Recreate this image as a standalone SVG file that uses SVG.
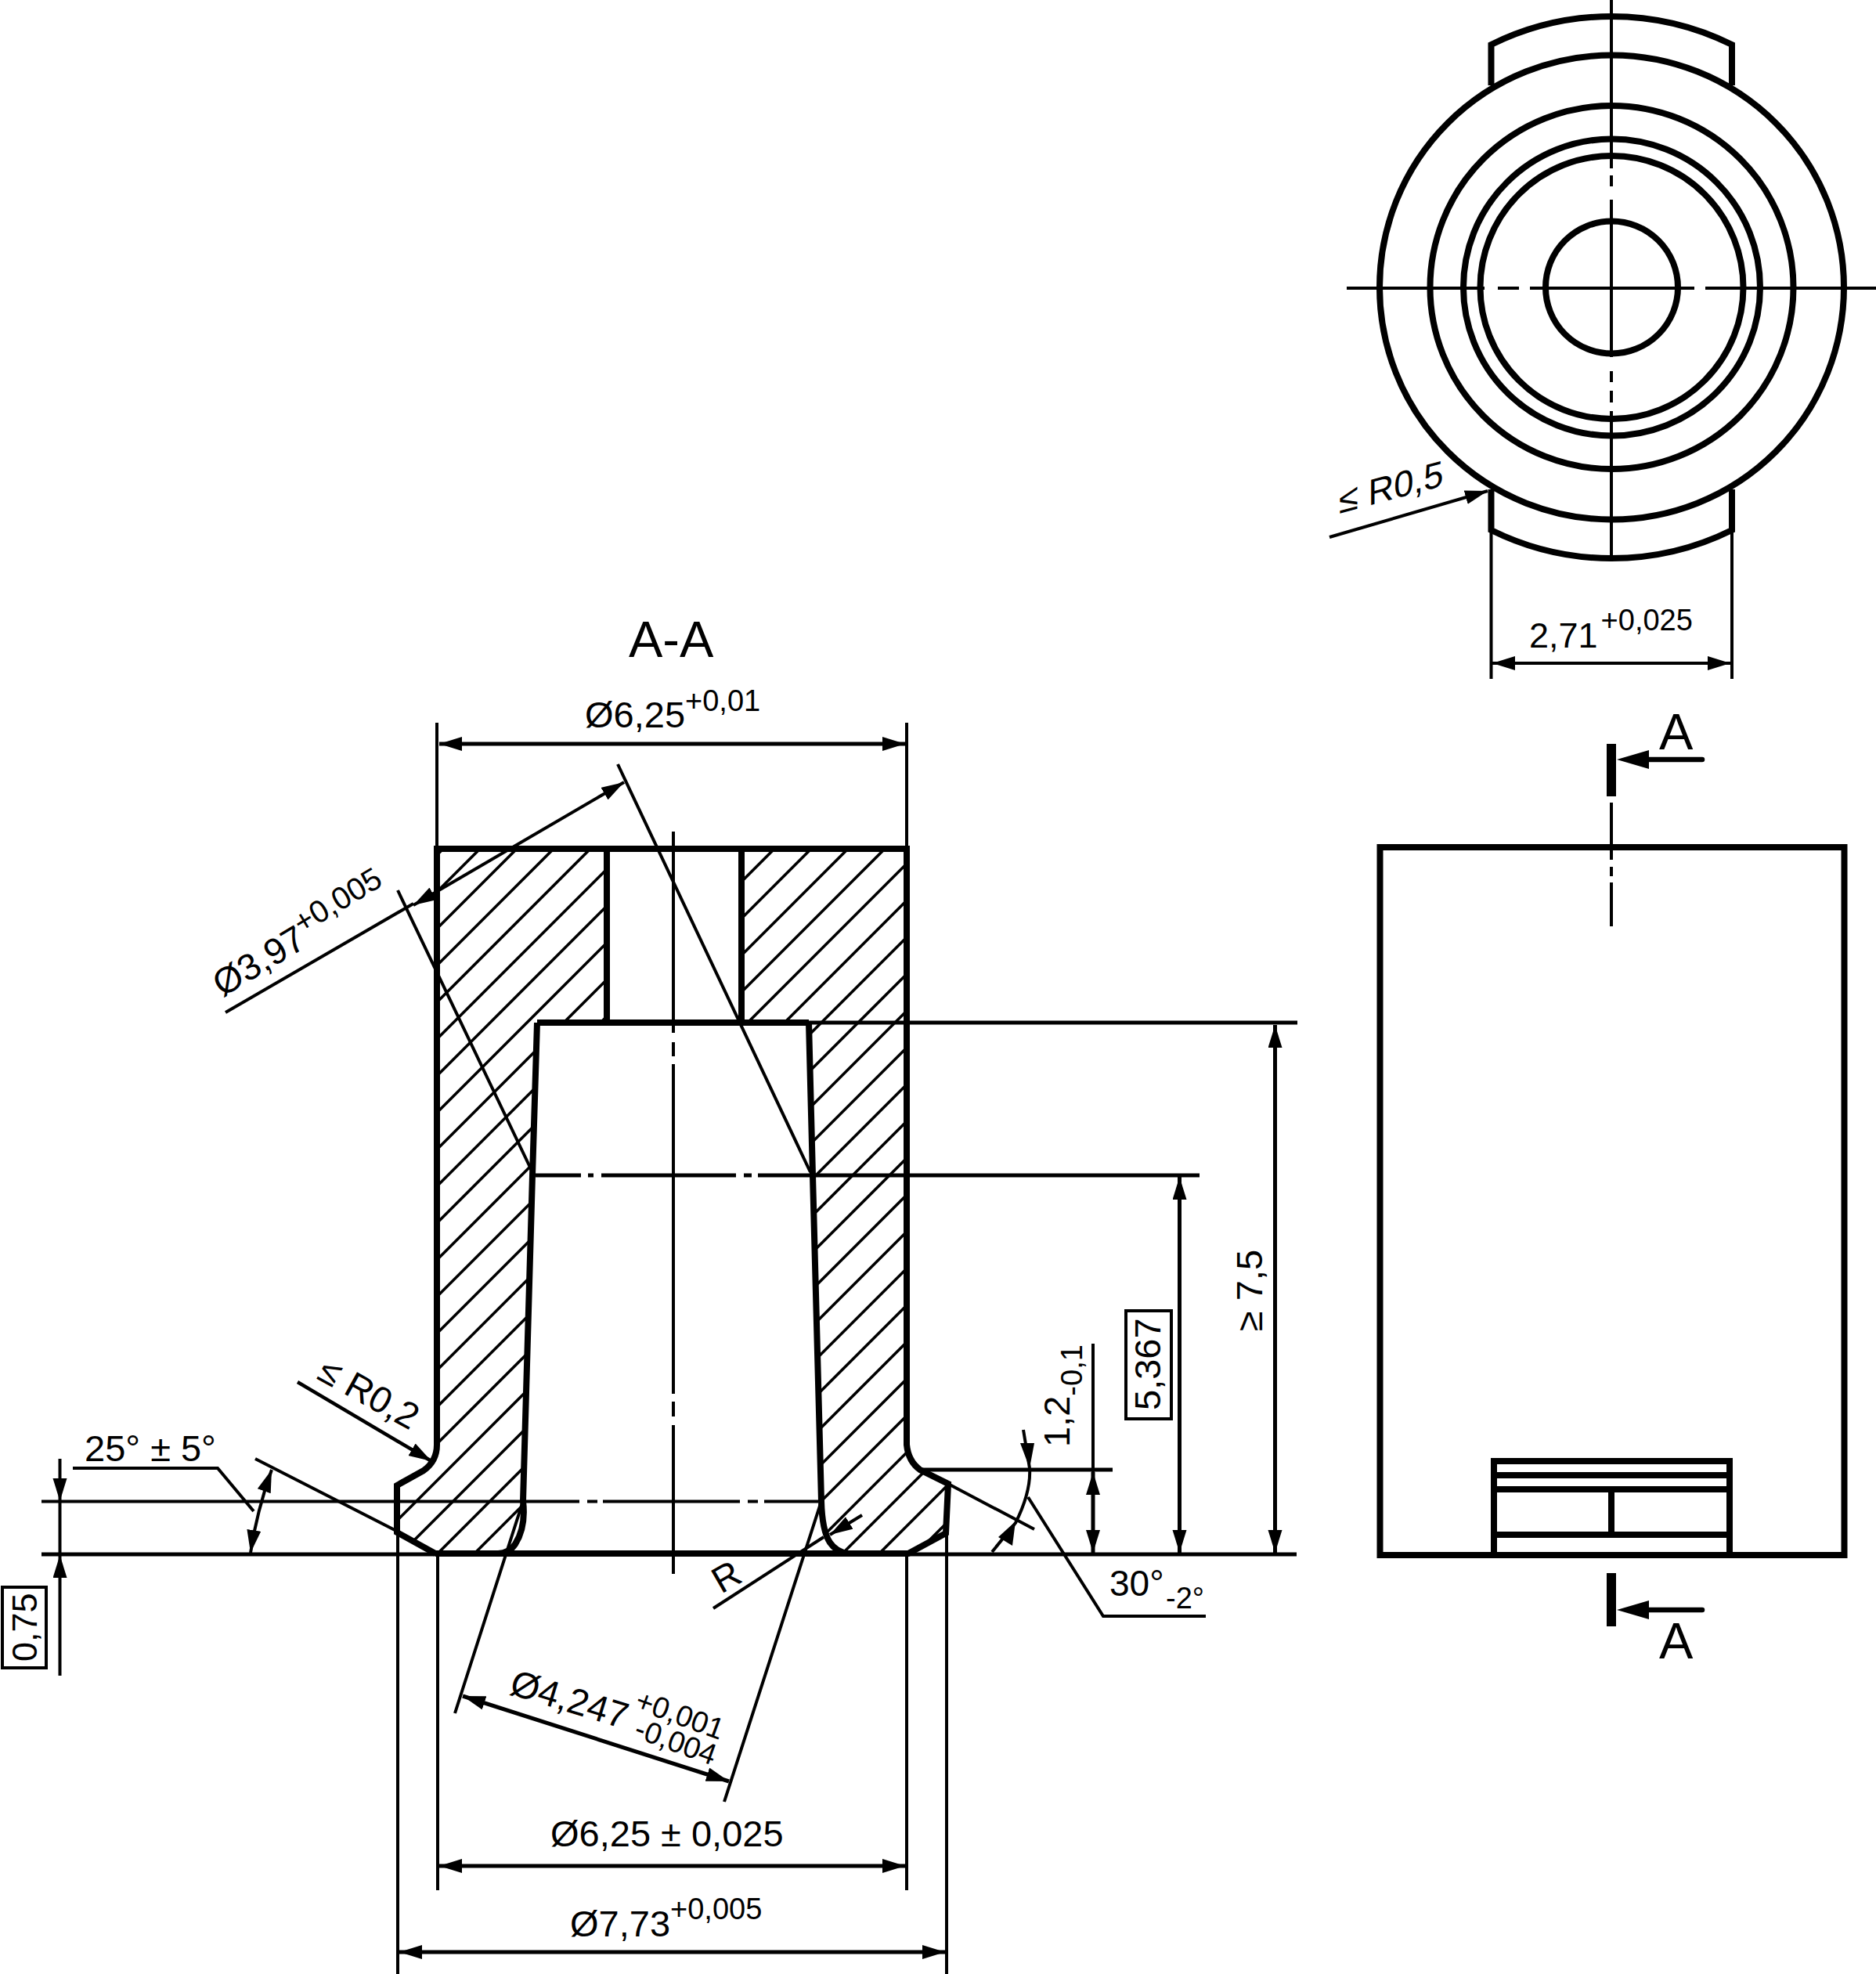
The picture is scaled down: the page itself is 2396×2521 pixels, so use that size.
<svg xmlns="http://www.w3.org/2000/svg" width="2396" height="2521" viewBox="0 0 2396 2521">
<style>
text{font-family:"Liberation Sans",Arial,sans-serif;fill:#000;font-size:47px}
.sup{font-size:38px}
.big{font-size:65px}
.thick,.thin,.med,.hatch,.dim{fill:none;stroke:#000;stroke-linejoin:miter}
.thick{stroke-width:8}
.med{stroke-width:6.5;stroke-linecap:round}
.thin{stroke-width:4}
.dim{stroke-width:5}
.hatch{stroke-width:3.6}
.ah{fill:#000;stroke:none}
</style>
<defs>
<marker id="a" markerUnits="userSpaceOnUse" markerWidth="32" markerHeight="20" refX="29" refY="9" orient="auto-start-reverse"><path class="ah" d="M0,0L29,9L0,18z"/></marker>
<clipPath id="sec"><path d="M558,1084H775V1306H686L680,1501L668,1917Q672,1950 658,1972Q650,1984 636,1984H556L507,1957V1897L541,1878Q558,1866 558,1845ZM947,1084H1158V1845Q1160,1866 1175,1877L1211,1895L1208,1958L1160,1984H1083Q1068,1982 1060,1970Q1050,1955 1049,1917L1038,1501L1033,1306H947Z"/></clipPath>
</defs>
<rect width="2396" height="2521" fill="#fff"/>
<g id="section-view">
<path class="hatch" clip-path="url(#sec)" d="M650,1000l-1100,1100M697,1000l-1100,1100M744,1000l-1100,1100M791,1000l-1100,1100M838,1000l-1100,1100M885,1000l-1100,1100M932,1000l-1100,1100M979,1000l-1100,1100M1026,1000l-1100,1100M1073,1000l-1100,1100M1120,1000l-1100,1100M1167,1000l-1100,1100M1214,1000l-1100,1100M1261,1000l-1100,1100M1308,1000l-1100,1100M1355,1000l-1100,1100M1402,1000l-1100,1100M1449,1000l-1100,1100M1496,1000l-1100,1100M1543,1000l-1100,1100M1590,1000l-1100,1100M1637,1000l-1100,1100M1684,1000l-1100,1100M1731,1000l-1100,1100M1778,1000l-1100,1100M1825,1000l-1100,1100M1872,1000l-1100,1100M1919,1000l-1100,1100M1966,1000l-1100,1100M2013,1000l-1100,1100M2060,1000l-1100,1100M2107,1000l-1100,1100M2154,1000l-1100,1100"/>
<path class="thick" d="M556,1984H1160L1208,1958L1211,1895L1175,1877Q1160,1866 1158,1845V1084H558V1845Q558,1866 541,1878L507,1897V1957L556,1984"/>
<path class="thick" d="M775,1084V1306M947,1084V1306M686,1306H1033M686,1306L680,1501L668,1917Q672,1950 658,1972Q650,1984 636,1984M1033,1306L1038,1501L1049,1917Q1050,1955 1060,1970Q1068,1982 1083,1984"/>
</g>
<g id="top-view">
<g class="thick">
<circle cx="2058.5" cy="367" r="296.5"/>
<circle cx="2058.5" cy="367" r="232"/>
<circle cx="2058.5" cy="367" r="189.5"/>
<circle cx="2058.5" cy="367" r="168"/>
<circle cx="2058.5" cy="367" r="84.5"/>
</g>
<path class="thick" d="M1904.5,109V57A346,346 0 0 1 2212,57V109M1904.5,625V677A346,346 0 0 0 2212,677V625"/>
<path class="thin" d="M1720,368H1896M1913,368H1940M1954,368H2144M2146,368H2164M2178,368H2396M2058,0V215M2058,224V238M2058,255V456M2058,474V488M2058,499V514M2058,525V716"/>
</g>
<g id="side-view">
<rect class="thick" x="1762.5" y="1082" width="593" height="904"/>
<path class="thick" d="M1908,1986V1866H2209V1986M1908,1884H2209M1908,1902H2209M1908,1960H2209M2058,1902V1960"/>
<path class="thin" d="M2058,1025V1098M2058,1107V1119M2058,1127V1183"/>
<path stroke="#000" stroke-width="12" fill="none" d="M2058,950V1017M2058,2009V2077"/>
<path class="med" d="M2100,970H2174M2100,2056H2174"/>
<path class="ah" d="M2065,970L2106,958V982zM2065,2056L2106,2044V2068z"/>
<text class="big" x="2119" y="957">A</text>
<text class="big" x="2119" y="2118">A</text>
</g>
<g id="connectors">
<path class="thin" d="M558,923V1084M1158,923V1084M508,1957V2521M1209,1958V2521M559,1986V2414M1158,1986V2414M1904.5,680V867M2212,680V867"/>
<path class="thin" d="M53,1917.5H740M750,1917.5H763M770,1917.5H945M955,1917.5H968M976,1917.5H1045"/>
<path class="thin" d="M860,1062V1319M860,1331V1349M860,1359V1780M860,1790V1809M860,1820V2010"/>
<path class="dim" d="M684,1501H742M751,1501H758M768,1501H940M950,1501H960M968,1501H1532"/>
<path class="dim" d="M1033,1306H1657"/>
<path class="dim" d="M53,1985H556M1160,1985H1656M1175,1877H1421"/>
<path class="thin" d="M789,976L1035,1497M508,1137L680,1497"/>
<path class="thin" d="M668,1917L581,2188M1049,1917L925,2301"/>
<path class="thin" d="M288,1293L528,1154"/>
<path class="thin" marker-start="url(#a)" marker-end="url(#a)" d="M528,1156L797,999"/>
<path class="dim" marker-start="url(#a)" marker-end="url(#a)" d="M561,950H1156"/>
<path class="dim" marker-start="url(#a)" marker-end="url(#a)" d="M561,2383H1156"/>
<path class="dim" marker-start="url(#a)" marker-end="url(#a)" d="M510,2493H1207"/>
<path class="dim" marker-start="url(#a)" marker-end="url(#a)" d="M591,2166L931,2275"/>
<path class="thin" marker-start="url(#a)" marker-end="url(#a)" d="M1906,847H2210"/>
<path class="thin" marker-end="url(#a)" d="M1698,686L1900,627"/>
<path class="dim" style="stroke-width:4.5" marker-end="url(#a)" d="M380,1765L551,1866"/>
<path class="thin" marker-end="url(#a)" d="M76.5,1863V1917"/>
<path class="thin" d="M76.5,1917V1984"/>
<path class="thin" marker-end="url(#a)" d="M76.5,2140V1986"/>
<path class="thin" d="M93,1875H278L324,1930"/>
<path class="thin" marker-start="url(#a)" marker-end="url(#a)" d="M347,1877Q328,1930 320,1983"/>
<path class="thin" d="M326,1863L510,1957M1211,1895L1321,1953"/>
<path class="thin" d="M1307,1826L1315,1875"/>
<path class="ah" d="M1315,1875L1303,1843H1321z"/>
<path class="thin" d="M1315,1875Q1317,1905 1297,1945L1267,1982"/>
<path class="ah" d="M1297,1943L1293,1974L1275,1963z"/>
<path class="thin" d="M1313,1912L1409,2064H1540"/>
<path class="dim" marker-start="url(#a)" marker-end="url(#a)" d="M1396,1880V1983"/>
<path class="thin" d="M1396,1716V1880"/>
<path class="dim" marker-start="url(#a)" marker-end="url(#a)" d="M1506.5,1503V1983"/>
<path class="dim" marker-start="url(#a)" marker-end="url(#a)" d="M1628.5,1309V1983"/>
<path class="thin" marker-end="url(#a)" d="M1101,1935L1060,1960"/>
<path class="thin" d="M1052,1963L911,2054"/>
</g>
<g id="labels">
<text class="big" x="803" y="839">A-A</text>
<text x="747" y="929">Ø6,25<tspan class="sup" dy="-21">+0,01</tspan></text>
<text transform="translate(284,1274) rotate(-31)">Ø3,97<tspan class="sup" style="font-size:40px" dy="-17">+0,005</tspan></text>
<text x="108" y="1866">25° ± 5°</text>
<text transform="translate(403,1760) rotate(29)">≤ R0,2</text>
<text style="font-size:45px" transform="translate(47,2122) rotate(-90)">0,75</text>
<rect class="thin" x="3" y="2027" width="56" height="103"/>
<text x="703" y="2358">Ø6,25 ± 0,025</text>
<text x="728" y="2473">Ø7,73<tspan class="sup" dy="-22">+0,005</tspan></text>
<text transform="translate(649,2163) rotate(17)">Ø4,247</text>
<text class="sup" transform="translate(809,2182) rotate(20)">+0,001</text>
<text class="sup" transform="translate(808,2218) rotate(20)">-0,004</text>
<text transform="translate(921,2036) rotate(-30)">R</text>
<text style="font-size:46px" x="1417" y="2038">30°</text>
<text class="sup" x="1489" y="2054">-2°</text>
<text transform="translate(1366,1848) rotate(-90)">1,2<tspan class="sup" dy="16">-0,1</tspan></text>
<text transform="translate(1482,1801) rotate(-90)">5,367</text>
<rect class="thin" x="1438" y="1674" width="58" height="138"/>
<text transform="translate(1612,1700) rotate(-90)">≥ 7,5</text>
<text transform="matrix(.966,-.259,0,1,1710,656)">≤ R0,5</text>
<text style="font-size:45px" x="1953" y="827">2,71<tspan class="sup" dx="4" dy="-22">+0,025</tspan></text>
</g>
</svg>
